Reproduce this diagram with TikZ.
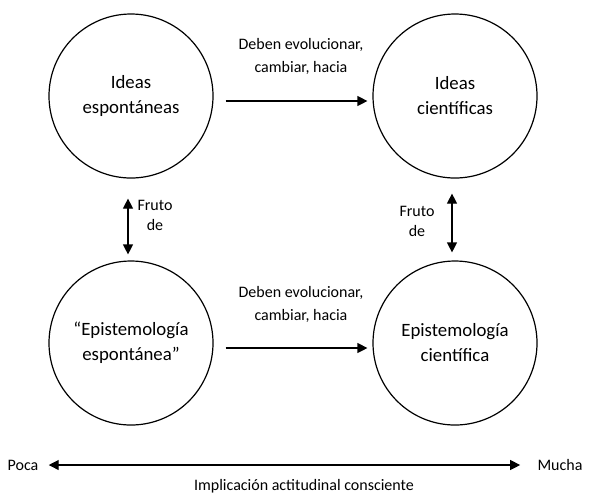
\documentclass[tikz,border=0pt]{standalone}
\usepackage{fontspec}
\setmainfont{Carlito}
\usetikzlibrary{arrows.meta}
\begin{document}
\begin{tikzpicture}[x=0.5pt,y=-0.5pt,
  every node/.style={font=\fontsize{9.4pt}{12.5pt}\selectfont},
  circ/.style={draw, circle, line width=0.6pt, minimum size=82pt, inner sep=0pt, align=center},
  lbl/.style={align=center, inner sep=0pt, font=\fontsize{8pt}{11.5pt}\selectfont},
  frl/.style={align=center, inner sep=0pt, font=\fontsize{8pt}{10pt}\selectfont},
  arr/.style={line width=0.6pt, -{Triangle[length=5pt,width=5pt]}},
  dbl/.style={line width=0.6pt, {Triangle[length=5pt,width=5pt]}-{Triangle[length=5pt,width=5pt]}}]
\useasboundingbox (0,0) rectangle (592,494);
\node[circ] (a) at (131,96) {Ideas\\espontáneas};
\node[circ] (b) at (455,96) {Ideas\\científicas};
\node[circ] (c) at (131,343) {“Epistemología\\espontánea”};
\node[circ] (d) at (455,343) {Epistemología\\científica};
\draw[arr] ([xshift=6pt,yshift=-2.5pt]a.east) -- ([xshift=-2.5pt,yshift=-2.5pt]b.west);
\draw[arr] ([xshift=6pt,yshift=-2.5pt]c.east) -- ([xshift=-2.5pt,yshift=-2.5pt]d.west);
\node[lbl] (t1) at (301,56) {Deben evolucionar,\\cambiar, hacia};
\node[lbl] (t2) at (301,304) {Deben evolucionar,\\cambiar, hacia};
\draw[dbl] ([xshift=-1.5pt,yshift=-10pt]a.south) -- ([xshift=-1.5pt,yshift=3pt]c.north);
\draw[dbl] ([xshift=-1.5pt,yshift=-7.5pt]b.south) -- ([xshift=-1.5pt,yshift=4pt]d.north);
\node[frl] (f1) at (155,215) {Fruto\\de};
\node[frl] (f2) at (417,221) {Fruto\\de};
\node[lbl] (poca) at (23,465) {Poca};
\node[lbl] (mucha) at (560,465) {Mucha};
\draw[dbl, shorten <=5pt, shorten >=8.5pt] (poca.east) -- (mucha.west);
\node[lbl] (impl) at (304,486) {Implicación actitudinal consciente};
\end{tikzpicture}
\end{document}
